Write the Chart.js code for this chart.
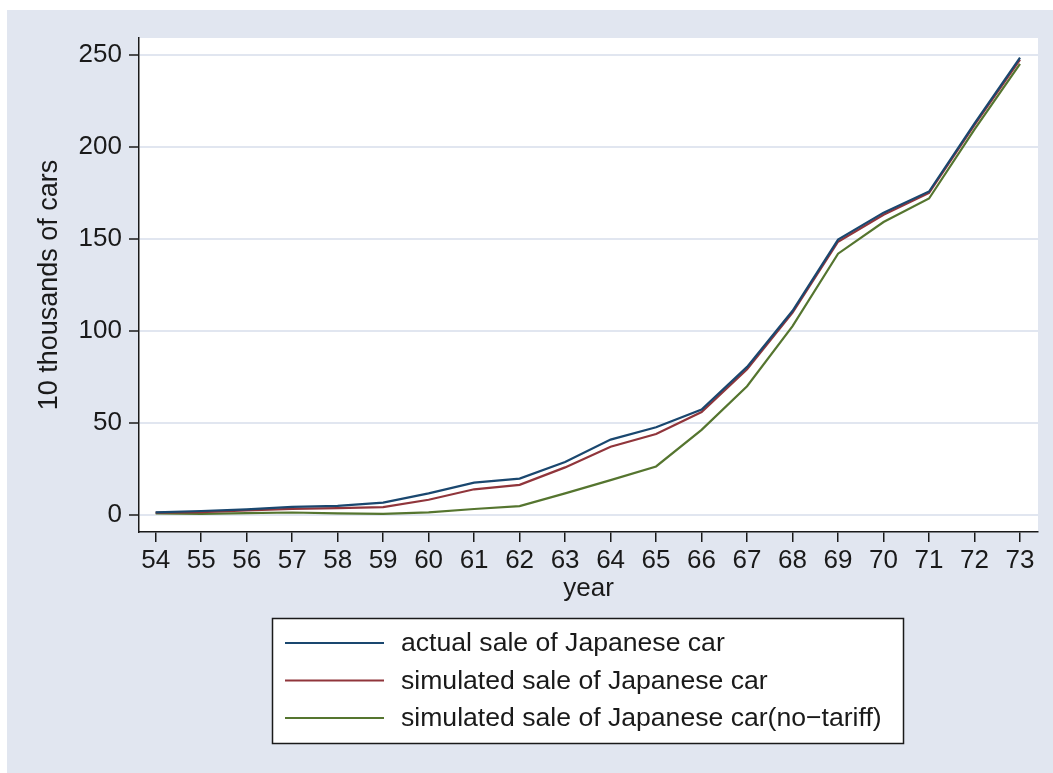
<!DOCTYPE html>
<html>
<head>
<meta charset="utf-8">
<script src="https://cdn.jsdelivr.net/npm/chart.js@4.4.1/dist/chart.umd.min.js"></script>
<style>
  html, body { margin: 0; padding: 0; background: #ffffff; }
  #wrap { width: 1053px; height: 773px; }
</style>
</head>
<body>
<div id="wrap"><canvas id="chart" width="1053" height="773"></canvas></div>
<script>
// Japanese car sales, in 10 thousands of cars, by year (19xx)
const years = [54, 55, 56, 57, 58, 59, 60, 61, 62, 63, 64, 65, 66, 67, 68, 69, 70, 71, 72, 73];
const actualSale = [1.5, 2.2, 3.1, 4.5, 5.0, 6.8, 11.8, 17.6, 19.8, 28.8, 41.0, 47.7, 57.3, 80.5, 111.0, 149.7, 164.3, 175.8, 212.8, 248.6];
const simulatedSale = [1.3, 1.6, 2.5, 3.4, 3.8, 4.3, 8.3, 14.0, 16.4, 25.9, 37.1, 44.0, 56.0, 79.2, 110.0, 148.5, 163.2, 175.0, 212.0, 247.5];
const simulatedNoTariff = [0.9, 0.7, 1.1, 1.4, 0.9, 0.7, 1.5, 3.3, 4.9, 11.8, 19.0, 26.4, 46.3, 70.0, 102.7, 142.0, 159.2, 172.0, 209.6, 245.2];
const yTickValues = [0, 50, 100, 150, 200, 250];

const seriesNames = [
  'actual sale of Japanese car',
  'simulated sale of Japanese car',
  'simulated sale of Japanese car(no\u2212tariff)'
];
const seriesColors = ['#1a476f', '#90353b', '#55752f'];

const FONT = '"Liberation Sans", Arial, Helvetica, sans-serif';
const BG = '#e1e6f0';
const INK = '#1a1a1a';

function toPoints(values) {
  return years.map((yr, i) => ({ x: yr, y: values[i] }));
}

// Page background, white plot region and the boxed legend below the x axis
const framePlugin = {
  id: 'frame',
  beforeDraw(chart) {
    const { ctx, chartArea } = chart;
    ctx.save();
    ctx.fillStyle = '#ffffff';
    ctx.fillRect(0, 0, chart.width, chart.height);
    ctx.fillStyle = BG;
    ctx.fillRect(7, 10, chart.width - 7, chart.height - 10);
    ctx.fillStyle = '#ffffff';
    ctx.fillRect(chartArea.left, chartArea.top, chartArea.right - chartArea.left, chartArea.bottom - chartArea.top);
    ctx.restore();
  },
  afterDraw(chart) {
    const { ctx } = chart;
    const box = { x: 272.5, y: 618.5, w: 631, h: 125 };
    ctx.save();
    ctx.fillStyle = '#ffffff';
    ctx.fillRect(box.x, box.y, box.w, box.h);
    ctx.strokeStyle = INK;
    ctx.lineWidth = 1.5;
    ctx.strokeRect(box.x, box.y, box.w, box.h);
    ctx.font = '26.6px ' + FONT;
    ctx.textBaseline = 'middle';
    ctx.textAlign = 'left';
    chart.data.datasets.forEach((ds, i) => {
      const cy = 643 + i * 37.5;
      ctx.strokeStyle = ds.borderColor;
      ctx.lineWidth = 2.2;
      ctx.beginPath();
      ctx.moveTo(285, cy);
      ctx.lineTo(384, cy);
      ctx.stroke();
      ctx.fillStyle = INK;
      ctx.fillText(ds.label, 401, cy + 1);
    });
    ctx.restore();
  }
};

const datasets = [actualSale, simulatedSale, simulatedNoTariff].map((vals, i) => ({
  label: seriesNames[i],
  data: toPoints(vals),
  borderColor: seriesColors[i],
  backgroundColor: seriesColors[i],
  borderWidth: 2.2,
  pointRadius: 0,
  tension: 0,
  fill: false
}));

new Chart(document.getElementById('chart'), {
  type: 'line',
  data: { datasets },
  plugins: [framePlugin],
  options: {
    responsive: false,
    animation: false,
    layout: { padding: { left: 7, right: 15, top: 38, bottom: 171 } },
    plugins: {
      legend: { display: false },
      tooltip: { enabled: false },
      title: { display: false }
    },
    scales: {
      x: {
        type: 'linear',
        min: 53.634,
        max: 73.395,
        afterBuildTicks(scale) { scale.ticks = years.map(v => ({ value: v })); },
        afterFit(scale) { scale.height = 70; },
        border: { display: true, color: INK, width: 1.5 },
        grid: { drawOnChartArea: false, drawTicks: true, tickLength: 10, tickColor: INK, lineWidth: 1.5 },
        ticks: {
          color: INK,
          padding: 3,
          maxRotation: 0,
          autoSkip: false,
          font: { family: FONT, size: 26 },
          callback: v => String(v)
        },
        title: {
          display: true,
          text: 'year',
          color: INK,
          font: { family: FONT, size: 26, lineHeight: 1 },
          padding: { top: 0, bottom: 0 }
        }
      },
      y: {
        type: 'linear',
        min: -9.2,
        max: 259.2,
        afterBuildTicks(scale) { scale.ticks = yTickValues.map(v => ({ value: v })); },
        afterFit(scale) { scale.width = 132; },
        border: { display: true, color: INK, width: 1.5 },
        grid: { color: BG, lineWidth: 2, drawTicks: true, tickLength: 10, tickColor: INK, tickWidth: 1.5 },
        ticks: {
          color: INK,
          padding: 7,
          font: { family: FONT, size: 26 },
          callback: v => String(v)
        },
        title: {
          display: true,
          text: '10 thousands of cars',
          color: INK,
          font: { family: FONT, size: 27, lineHeight: 1 },
          padding: { top: 29.5, bottom: 0 }
        }
      }
    }
  }
});
</script>
</body>
</html>
